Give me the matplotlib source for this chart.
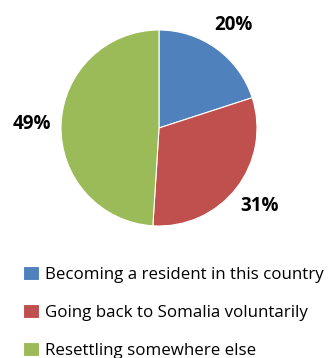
import matplotlib
matplotlib.use("Agg")
import matplotlib.pyplot as plt

categories = [
    "Becoming a resident in this country",
    "Going back to Somalia voluntarily",
    "Resettling somewhere else",
]
values = [20, 31, 49]
colors = ["#4F81BD", "#C0504D", "#9BBB59"]

plt.rcParams["font.family"] = ["Open Sans", "DejaVu Sans"]

W, H = 329, 358
fig = plt.figure(figsize=(W / 100, H / 100), dpi=100)

# pie area in pixels: centre (159, 128), radius 98
cx, cy, r = 159, 128, 98
ax = fig.add_axes([(cx - r) / W, (H - cy - r) / H, 2 * r / W, 2 * r / H])
wedges, texts, autotexts = ax.pie(
    values,
    colors=colors,
    startangle=90,
    counterclock=False,
    autopct=lambda p: f"{p:.0f}%",
    pctdistance=1.3,
    wedgeprops=dict(edgecolor="white", linewidth=0.8),
    textprops=dict(fontsize=13.5, fontweight="bold", color="black"),
)
ax.set_xlim(-1, 1)
ax.set_ylim(-1, 1)
ax.set_aspect("equal")

leg = fig.legend(
    wedges,
    categories,
    loc="upper left",
    bbox_to_anchor=(16 / W, 1 - 259 / H),
    frameon=False,
    fontsize=12.2,
    handlelength=0.95,
    handleheight=0.9,
    handletextpad=0.35,
    labelspacing=1.25,
    borderaxespad=0,
)

fig.savefig("out.png", dpi=100)
